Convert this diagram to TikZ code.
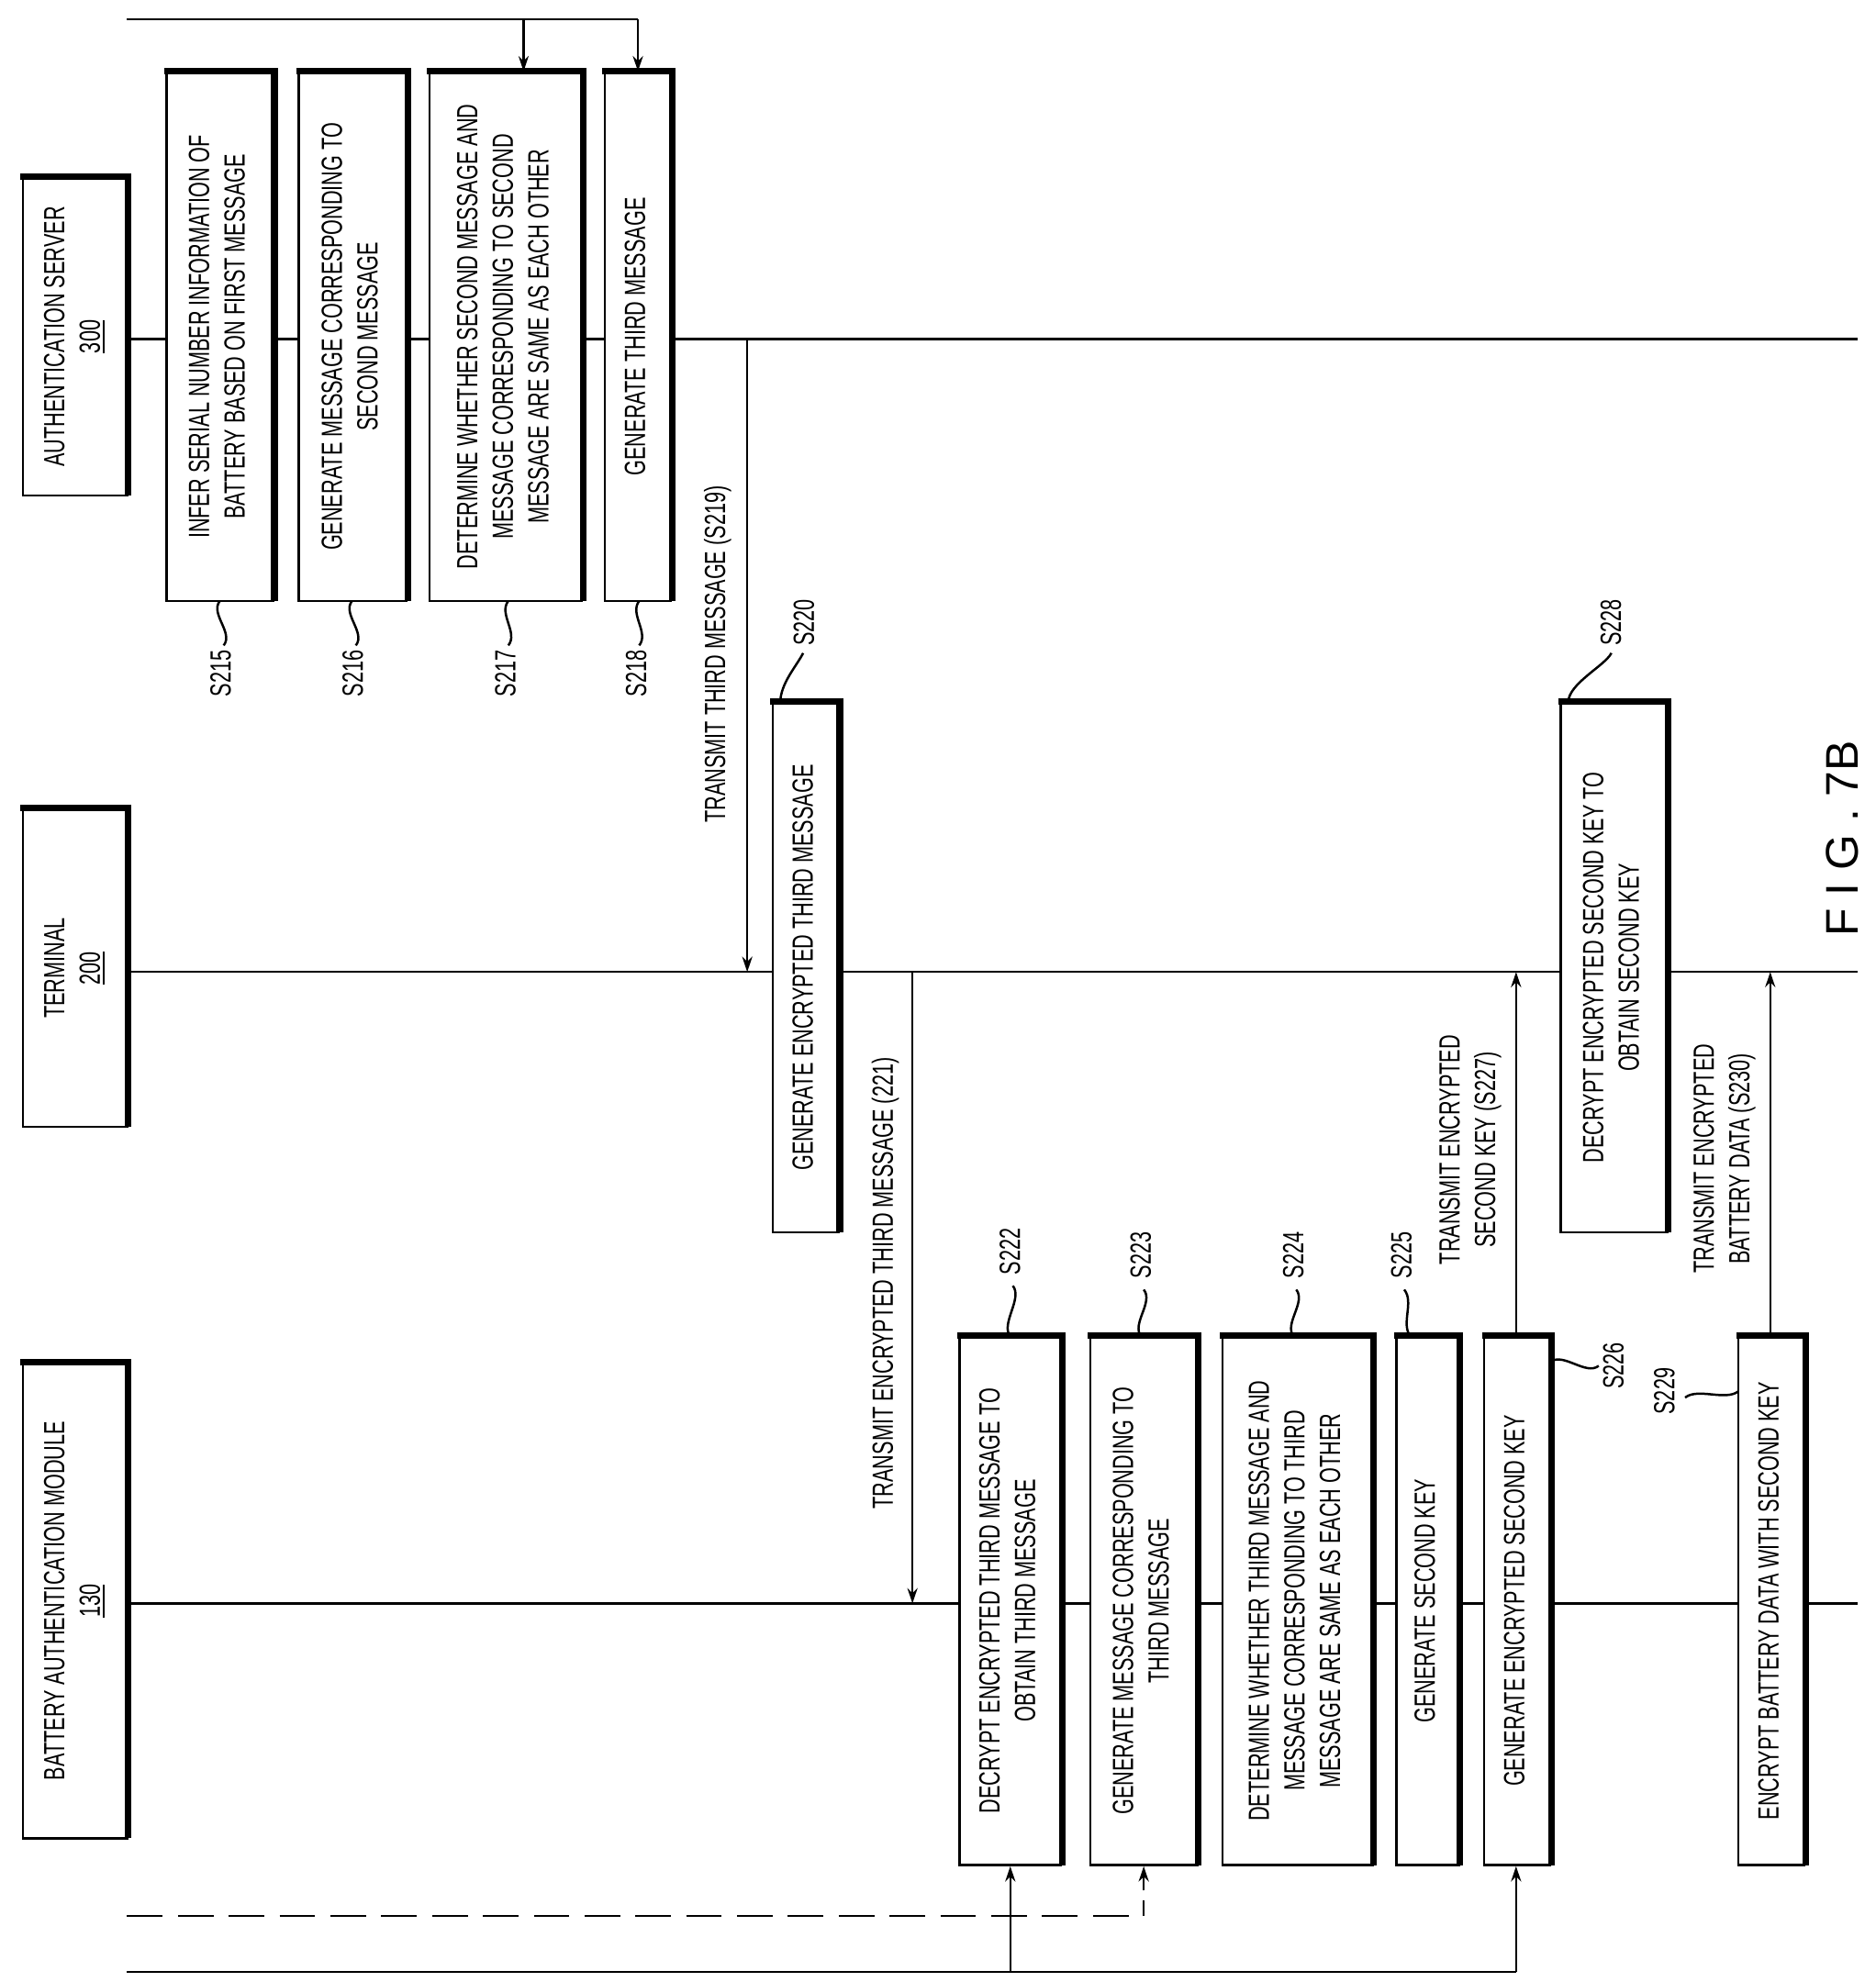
\documentclass[tikz,border=0pt]{standalone}
\usepackage{fontspec}
\setmainfont{Liberation Sans}
\usepackage{graphicx}
\usetikzlibrary{arrows.meta}
\newcommand\tx[1]{\fontsize{11.5}{14}\selectfont\scalebox{0.68}[1]{\begin{tabular}{@{}c@{}}#1\end{tabular}}}
\newcommand\bx[6]{%
  \node[draw,fill=white,line width=0.9pt,inner sep=0pt,minimum width={(#4-#2)*0.5pt},minimum height={(#5-#3)*0.5pt}] (#1) at ({(#2+#4)/2},{(#3+#5)/2}) {};
  \draw[line width=2.6pt] ([xshift=-0.5pt]#1.north west)--(#1.north east)--([yshift=0.5pt]#1.south east);
  \node[rotate=90,inner sep=0pt] at (#1) {\tx{#6}};}
\newcommand\lbl[3]{\node[rotate=90,inner sep=1pt] (#1) at (#2) {\tx{#3}};}
\begin{document}
\begin{tikzpicture}[x=0.5pt,y=-0.5pt,>={Stealth[length=6pt,width=4pt]},line width=0.9pt]
\useasboundingbox (0,0) rectangle (1476,1560);
% lifelines
\coordinate (ls) at (1462,267); \coordinate (lt) at (1462,765); \coordinate (lb) at (1462,1262);
\coordinate (ls0) at (100,267); \coordinate (lt0) at (100,765); \coordinate (lb0) at (100,1262);
\draw (ls0) -- (ls); \draw (lt0) -- (lt); \draw (lb0) -- (lb);
% headers
\bx{hs}{18}{140}{100}{390}{AUTHENTICATION SERVER\\\underline{300}}
\bx{ht}{18}{637}{100}{887}{TERMINAL\\\underline{200}}
\bx{hb}{18}{1073}{100}{1447}{BATTERY AUTHENTICATION MODULE\\\underline{130}}
% server boxes
\bx{s215}{131}{57}{215}{473}{INFER SERIAL NUMBER INFORMATION OF\\BATTERY BASED ON FIRST MESSAGE}
\bx{s216}{235}{57}{320}{473}{GENERATE MESSAGE CORRESPONDING TO\\SECOND MESSAGE}
\bx{s217}{338}{57}{458}{473}{DETERMINE WHETHER SECOND MESSAGE AND\\MESSAGE CORRESPONDING TO SECOND\\MESSAGE ARE SAME AS EACH OTHER}
\bx{s218}{476}{57}{528}{473}{GENERATE THIRD MESSAGE}
% top entry
\coordinate (t0) at (100,15); \coordinate (t1) at (412,15); \coordinate (t2) at (502,15);
\draw (t0) -- (t2); \draw[->] (t1) -- (s217.north -| t1); \draw[->] (t2) -- (s218.north -| t2);
% S219
\coordinate (a1) at (588,267); \coordinate (a2) at (588,765);
\draw[->] (a1) -- (a2);
\lbl{l219}{565,515}{TRANSMIT THIRD MESSAGE (S219)}
\bx{s220}{608}{553}{660}{970}{GENERATE ENCRYPTED THIRD MESSAGE}
% 221
\coordinate (b1) at (718,765); \coordinate (b2) at (718,1262);
\draw[->] (b1) -- (b2);
\lbl{l221}{697,1010}{TRANSMIT ENCRYPTED THIRD MESSAGE (221)}
% battery boxes
\bx{s222}{755}{1052}{835}{1468}{DECRYPT ENCRYPTED THIRD MESSAGE TO\\OBTAIN THIRD MESSAGE}
\bx{s223}{858}{1052}{942}{1468}{GENERATE MESSAGE CORRESPONDING TO\\THIRD MESSAGE}
\bx{s224}{962}{1052}{1080}{1468}{DETERMINE WHETHER THIRD MESSAGE AND\\MESSAGE CORRESPONDING TO THIRD\\MESSAGE ARE SAME AS EACH OTHER}
\bx{s225}{1099}{1052}{1148}{1468}{GENERATE SECOND KEY}
\bx{s226}{1168}{1052}{1220}{1468}{GENERATE ENCRYPTED SECOND KEY}
\bx{s229}{1368}{1052}{1420}{1468}{ENCRYPT BATTERY DATA WITH SECOND KEY}
\bx{s228}{1228}{553}{1312}{970}{DECRYPT ENCRYPTED SECOND KEY TO\\OBTAIN SECOND KEY}
% S227, S230
\coordinate (c2) at (1193,765); \draw[->] (s226.north -| c2) -- (c2);
\lbl{l227}{1157,905}{TRANSMIT ENCRYPTED\\SECOND KEY (S227)}
\coordinate (d2) at (1393,765); \draw[->] (s229.north -| d2) -- (d2);
\lbl{l230}{1357,912}{TRANSMIT ENCRYPTED\\BATTERY DATA (S230)}
% bottom entries
\coordinate (e0) at (100,1508); \coordinate (e1) at (900,1508);
\draw[dashed,dash pattern=on 14pt off 6pt] (e0) -- (e1);
\draw[->,dashed,dash pattern=on 6pt off 4pt] (e1) -- (s223.south -| e1);
\coordinate (f0) at (100,1552); \coordinate (f1) at (795,1552); \coordinate (f2) at (1193,1552);
\draw (f0) -- (f2); \draw[->] (f1) -- (s222.south -| f1); \draw[->] (f2) -- (s226.south -| f2);
% step labels
\lbl{n215}{176,530}{S215}\draw (173,473) .. controls +(-8,10) and +(8,-10) .. (176,508);
\lbl{n216}{280,530}{S216}\draw (277,473) .. controls +(-8,10) and +(8,-10) .. (280,508);
\lbl{n217}{400,530}{S217}\draw (400,473) .. controls +(-8,10) and +(8,-10) .. (400,508);
\lbl{n218}{503,530}{S218}\draw (503,473) .. controls +(-8,10) and +(8,-10) .. (503,508);
\lbl{n220}{635,490}{S220}\draw (614,553) .. controls +(0,-15) and +(-5,10) .. (632,514);
\lbl{n228}{1270,490}{S228}\draw (1234,553) .. controls +(0,-15) and +(-5,10) .. (1268,514);
\lbl{n222}{797,985}{S222}\draw (795,1052) .. controls +(-8,-10) and +(8,10) .. (797,1012);
\lbl{n223}{900,988}{S223}\draw (898,1052) .. controls +(-8,-10) and +(8,10) .. (900,1015);
\lbl{n224}{1020,988}{S224}\draw (1018,1052) .. controls +(-8,-10) and +(8,10) .. (1020,1015);
\lbl{n225}{1105,988}{S225}\draw (1110,1052) .. controls +(-8,-10) and +(8,10) .. (1105,1015);
\lbl{n226}{1272,1075}{S226}\draw (1220,1072) .. controls +(10,-8) and +(-10,8) .. (1258,1075);
\lbl{n229}{1312,1095}{S229}\draw (1326,1100) .. controls +(10,-8) and +(-10,8) .. (1368,1095);
\node[rotate=90] (fig) at (1450,660) {\fontsize{18}{20}\selectfont F I G . 7B};
\end{tikzpicture}
\end{document}
